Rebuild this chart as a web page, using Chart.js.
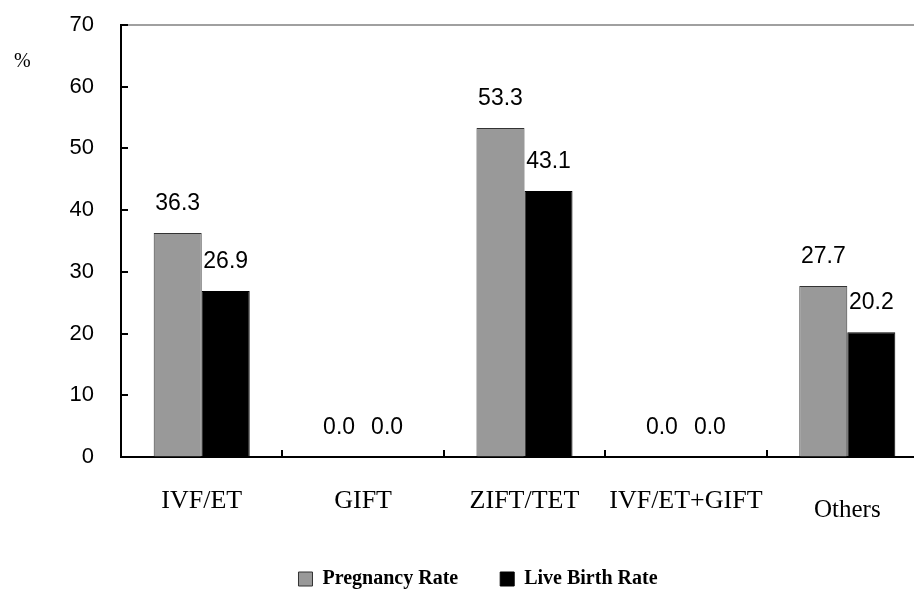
<!DOCTYPE html>
<html>
<head>
<meta charset="utf-8">
<script src="https://cdn.jsdelivr.net/npm/chart.js@4"></script>
<style>
  html, body { margin: 0; padding: 0; background: #fff; overflow: hidden; }
  #wrap { width: 940px; height: 590px; }
</style>
</head>
<body>
<div id="wrap"><canvas id="rateChart"></canvas></div>
<script>
const categories = ['IVF/ET', 'GIFT', 'ZIFT/TET', 'IVF/ET+GIFT', 'Others'];
const pregnancyRate = [36.3, 0.0, 53.3, 0.0, 27.7];
const liveBirthRate = [26.9, 0.0, 43.1, 0.0, 20.2];
const yTicks = [0, 10, 20, 30, 40, 50, 60, 70];

const chartDecor = {
    id: 'chartDecor',
    afterDatasetsDraw(chart) {
        const ctx = chart.ctx;
        const area = chart.chartArea;
        const x = chart.scales.x;
        const y = chart.scales.y;
        ctx.save();

        // grey frame line on top
        ctx.strokeStyle = '#a0a0a0';
        ctx.lineWidth = 2;
        ctx.beginPath();
        ctx.moveTo(area.left, area.top);
        ctx.lineTo(area.right, area.top);
        ctx.stroke();

        // inner tick marks
        ctx.strokeStyle = '#000';
        ctx.lineWidth = 2;
        ctx.beginPath();
        yTicks.forEach(v => {
            const py = Math.round(y.getPixelForValue(v));
            ctx.moveTo(area.left, py);
            ctx.lineTo(area.left + 7, py);
        });
        for (let i = 0; i < categories.length - 1; i++) {
            const px = Math.round((x.getPixelForTick(i) + x.getPixelForTick(i + 1)) / 2);
            ctx.moveTo(px, area.bottom);
            ctx.lineTo(px, area.bottom - 7);
        }
        ctx.stroke();

        // value labels
        ctx.fillStyle = '#000';
        ctx.font = '23px "Liberation Sans"';
        ctx.textAlign = 'center';
        ctx.textBaseline = 'bottom';
        chart.data.datasets.forEach((ds, di) => {
            chart.getDatasetMeta(di).data.forEach((bar, i) => {
                ctx.fillText(ds.data[i].toFixed(1), bar.x, bar.y - 18);
            });
        });

        ctx.font = '20px "Liberation Serif"';
        ctx.textAlign = 'left';
        ctx.textBaseline = 'middle';
        ctx.fillText('%', 14, 62);
        ctx.restore();
    }
};

const ctx = document.getElementById('rateChart').getContext('2d');
new Chart(ctx, {
    type: 'bar',
    data: {
        labels: categories,
        datasets: [{
            label: 'Pregnancy Rate',
            data: pregnancyRate,
            backgroundColor: '#999999',
            borderColor: '#333333',
            borderWidth: 1,
            categoryPercentage: 0.595,
            barPercentage: 1
        }, {
            label: 'Live Birth Rate',
            data: liveBirthRate,
            backgroundColor: '#000000',
            borderColor: '#000000',
            borderWidth: 1,
            categoryPercentage: 0.595,
            barPercentage: 1
        }]
    },
    options: {
        responsive: true,
        maintainAspectRatio: false,
        animation: false,
        layout: { padding: { left: 28, top: 25, right: 12, bottom: 0 } },
        plugins: {
            tooltip: { enabled: false },
            legend: {
                position: 'bottom',
                maxHeight: 63,
                labels: {
                    color: '#000',
                    boxWidth: 14,
                    boxHeight: 14,
                    padding: 42,
                    font: { family: '"Liberation Serif"', size: 20, weight: 'bold' }
                }
            }
        },
        scales: {
            x: {
                grid: { drawOnChartArea: false, tickLength: 27, tickColor: 'transparent' },
                border: { color: '#000', width: 2 },
                ticks: {
                    color: '#000',
                    padding: 3,
                    maxRotation: 0,
                    font: c => c.index === 4
                        ? { family: '"Liberation Serif"', size: 25, lineHeight: 1.87 }
                        : { family: '"Liberation Serif"', size: 26, lineHeight: 1.1 }
                },
                afterFit: scale => { scale.height = 70; }
            },
            y: {
                min: 0,
                max: 70,
                grid: { drawOnChartArea: false, tickLength: 24, tickColor: 'transparent' },
                border: { color: '#000', width: 2 },
                ticks: {
                    stepSize: 10,
                    color: '#000',
                    padding: 3,
                    font: { family: '"Liberation Sans"', size: 22 }
                },
                afterFit: scale => { scale.width = 93; }
            }
        }
    },
    plugins: [chartDecor]
});
</script>
</body>
</html>
